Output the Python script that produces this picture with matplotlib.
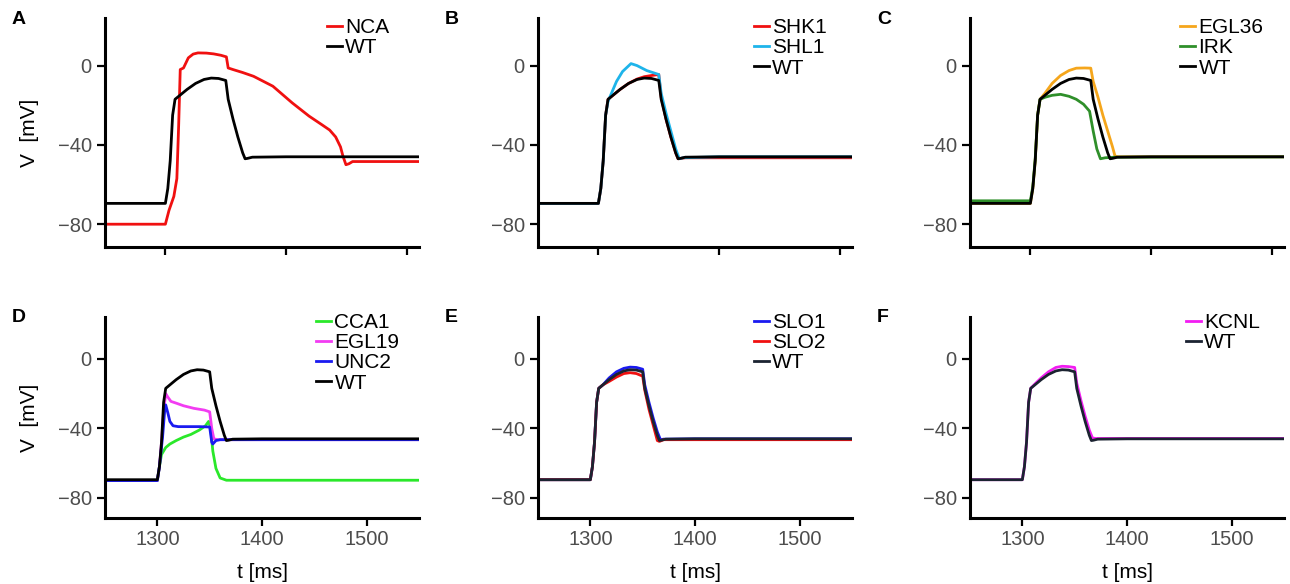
import numpy as np
import matplotlib.pyplot as plt

plt.rcParams['font.family'] = ['Liberation Sans', 'DejaVu Sans']

# ---- traces (t in ms, V in mV) ----
t_wt = [1250, 1300, 1302, 1304, 1306, 1308, 1312, 1318, 1325, 1332, 1338, 1344, 1350,
        1352, 1356, 1360, 1364, 1366, 1368, 1372, 1400, 1560]
v_wt = [-69.5, -69.5, -62, -48, -25, -17, -15, -12, -9, -7, -6.3, -6.5, -7.5,
        -17, -27, -36, -44, -47, -46.8, -46.2, -46, -46]

# A
t_nca = [1250, 1300, 1303, 1307, 1309.5, 1311, 1312.3, 1315, 1319, 1323, 1327, 1334, 1340, 1346,
         1350.5, 1352, 1356, 1364, 1373, 1389, 1405, 1419, 1430, 1436, 1441, 1445, 1447, 1449.5,
         1452, 1455, 1470, 1560]
v_nca = [-80, -80, -73, -66, -57, -30, -2, -1.2, 3.9, 5.8, 6.4, 6.3, 5.9, 5.2,
         4.4, -1.2, -2, -3.5, -5.4, -10.4, -18.8, -25.5, -30, -32.5, -36, -41, -45.6, -50,
         -49.5, -48.4, -48.4, -48.4]

# B
t_shk1 = [1250, 1300, 1302, 1304, 1306, 1308, 1312, 1318, 1325, 1332, 1338, 1344, 1350,
          1352, 1356, 1360, 1364, 1366, 1368, 1372, 1400, 1560]
v_shk1 = [-69.5, -69.5, -62, -48, -25, -17, -15, -12, -9, -6.8, -5.6, -5, -4.5,
          -16, -27, -36, -44, -47, -46.8, -46.5, -46.5, -46.5]
t_shl1 = [1250, 1300, 1302, 1304, 1306, 1308, 1315, 1320, 1327, 1332, 1340, 1350,
          1352, 1356, 1360, 1364, 1367, 1370, 1400, 1560]
v_shl1 = [-69.5, -69.5, -62, -48, -25, -18, -8, -3, 1, 0, -2.5, -4.5,
          -14, -24, -33, -42, -47, -46.5, -46, -46]

# C
t_egl36 = [1250, 1300, 1302, 1304, 1306, 1308, 1312, 1318, 1325, 1332, 1338, 1345, 1350,
           1352, 1356, 1360, 1364, 1368, 1370, 1372, 1560]
v_egl36 = [-69.5, -69.5, -62, -48, -25, -17, -14, -9, -5, -2.5, -1.3, -1.2, -1.3,
           -8, -16, -25, -33, -41, -45.5, -46, -46]
t_irk = [1250, 1300, 1302, 1304, 1306, 1308, 1312, 1318, 1325, 1332, 1338, 1344, 1349,
         1352, 1355, 1358, 1362, 1370, 1560]
v_irk = [-68.2, -68.2, -61, -47, -25, -17, -16, -15, -14.5, -15.5, -17, -19.5, -23,
         -33, -42, -47, -46.5, -46.2, -46]

# D
t_cca1 = [1250, 1300, 1302, 1304, 1308, 1312, 1318, 1325, 1332, 1340, 1346, 1349,
          1351, 1353, 1356, 1360, 1366, 1560]
v_cca1 = [-70, -70, -62, -55, -51, -49, -47, -45, -43.5, -41, -38.5, -36,
          -40, -53, -63, -68.5, -69.8, -69.8]
t_egl19 = [1250, 1300, 1302, 1304, 1306, 1308, 1310, 1313, 1318, 1325, 1335, 1345, 1350,
           1352, 1354, 1358, 1560]
v_egl19 = [-70, -70, -62, -48, -30, -20, -22, -24.5, -25.5, -27, -28.5, -29.5, -30.5,
           -40, -46, -46.5, -46.5]
t_unc2 = [1250, 1300, 1302, 1305, 1307, 1308, 1310, 1312, 1315, 1320, 1340, 1350,
          1352, 1353, 1356, 1360, 1560]
v_unc2 = [-70, -70, -62, -45, -30, -26.5, -31, -36, -38.5, -39, -39, -39.2,
          -48, -49, -47, -46.5, -46.5]

# E
t_slo1 = [1250, 1300, 1302, 1304, 1306, 1308, 1312, 1318, 1325, 1332, 1338, 1344, 1350,
          1352, 1356, 1360, 1364, 1367, 1370, 1400, 1560]
v_slo1 = [-69.5, -69.5, -62, -48, -25, -17, -15, -11, -7.5, -5.5, -4.8, -5, -6,
          -15, -25, -34, -42, -46.5, -46.2, -46, -46]
t_slo2 = [1250, 1300, 1302, 1304, 1306, 1308, 1312, 1318, 1325, 1332, 1338, 1344, 1350,
          1352, 1356, 1360, 1364, 1366, 1370, 1400, 1560]
v_slo2 = [-69.5, -69.5, -62, -48, -25, -17, -15, -13, -10.5, -8.5, -8, -8.5, -10,
          -18, -29, -38, -47, -47.5, -46.5, -46.5, -46.5]

# F
t_kcnl = [1250, 1300, 1302, 1304, 1306, 1308, 1312, 1318, 1325, 1332, 1338, 1344, 1350,
          1352, 1356, 1360, 1364, 1367, 1370, 1400, 1560]
v_kcnl = [-69.5, -69.5, -62, -48, -25, -17, -14.5, -11, -7.5, -5, -4.3, -4.5, -5,
          -14, -24, -33, -41, -45.5, -45.8, -45.8, -45.8]

wt_dark = '#1b2331'
panels = [
    ('A', [('NCA', t_nca, v_nca, '#f01010'), ('WT', t_wt, v_wt, 'black')]),
    ('B', [('SHK1', t_shk1, v_shk1, '#f01010'), ('SHL1', t_shl1, v_shl1, '#1eb4ea'),
           ('WT', t_wt, v_wt, 'black')]),
    ('C', [('EGL36', t_egl36, v_egl36, '#f5a61c'), ('IRK', t_irk, v_irk, '#2f8f2a'),
           ('WT', t_wt, v_wt, 'black')]),
    ('D', [('CCA1', t_cca1, v_cca1, '#2ae82a'), ('EGL19', t_egl19, v_egl19, '#f23cf2'),
           ('UNC2', t_unc2, v_unc2, '#1a1af0'), ('WT', t_wt, v_wt, 'black')]),
    ('E', [('SLO1', t_slo1, v_slo1, '#1a1af0'), ('SLO2', t_slo2, v_slo2, '#f01010'),
           ('WT', t_wt, v_wt, wt_dark)]),
    ('F', [('KCNL', t_kcnl, v_kcnl, '#f21cf2'), ('WT', t_wt, v_wt, wt_dark)]),
]

W, H = 1290, 584
fig = plt.figure(figsize=(W / 100, H / 100), dpi=100)

lefts = [105, 538, 970]
axw = 314
rows = [(18, 247), (317, 518)]
leg_x = [0.707, 0.687, 0.67, 0.673, 0.687, 0.687]

for i, (letter, traces) in enumerate(panels):
    r, c = divmod(i, 3)
    top, bot = rows[r]
    ax = fig.add_axes([lefts[c] / W, 1 - bot / H, axw / W, (bot - top) / H])
    for name, t, v, col in traces:
        ax.plot(t, v, color=col, lw=2.0, label=name, solid_joinstyle='round')
    ax.set_ylim(-91.5, 24)
    ax.set_yticks([-80, -40, 0])
    ax.set_xticks([1300, 1400, 1500])
    if r == 0:
        ax.set_xlim(1250, 1510)
        ax.set_xticklabels([])
    else:
        ax.set_xlim(1250, 1550)
        ax.set_xlabel('t [ms]', fontsize=15)
        ax.xaxis.set_label_coords(0.5, -0.225)
    if c == 0:
        ax.set_ylabel('V  [mV]', fontsize=15)
        ax.yaxis.set_label_coords(-0.21, 0.5)
    for s in ['top', 'right']:
        ax.spines[s].set_visible(False)
    for s in ['left', 'bottom']:
        ax.spines[s].set_linewidth(2.2)
    ax.tick_params(axis='both', width=1.6, length=5.5, labelsize=14.5,
                   labelcolor='#4d4d4d', color='black')
    ax.tick_params(axis='x', pad=3)
    ax.tick_params(axis='y', pad=4)
    ax.legend(loc='upper left', bbox_to_anchor=(leg_x[i], 1.0 if r == 0 else 1.02),
              frameon=False, fontsize=15, handlelength=0.72, handletextpad=0.15,
              labelspacing=0.06, borderpad=0, borderaxespad=0)
    fig.text((lefts[c] - 93) / W, 1 - (top + 1) / H, letter, fontsize=14,
             fontweight='bold', va='center', ha='left')

fig.savefig('out.png', dpi=100)
